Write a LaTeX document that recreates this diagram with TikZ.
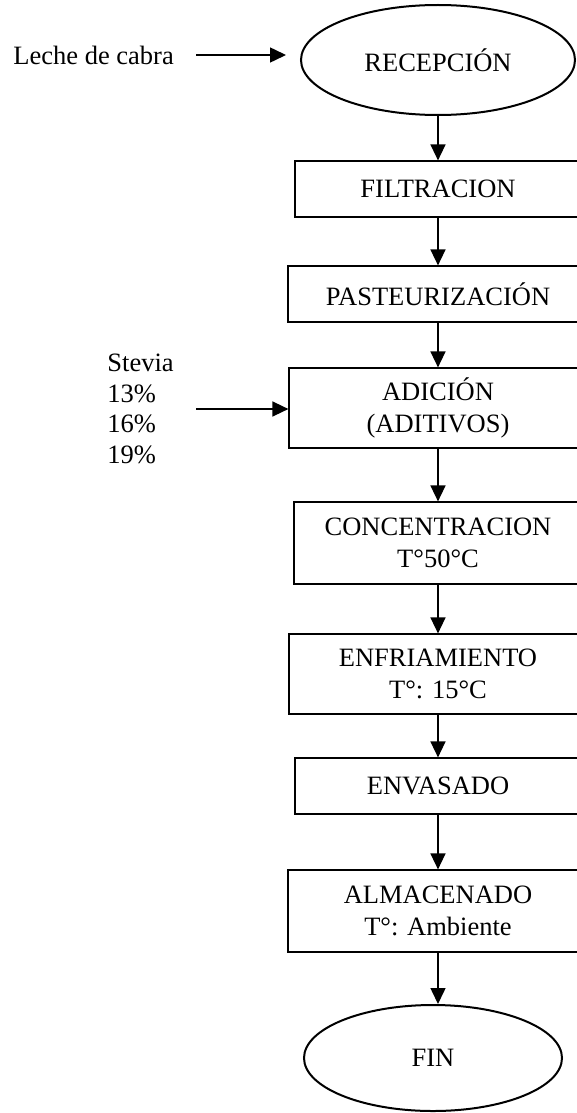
\documentclass[tikz,border=0pt]{standalone}
\usepackage{fontspec}
\setmainfont{Liberation Serif}
\usetikzlibrary{arrows.meta,shapes.geometric}

\begin{document}
\begin{tikzpicture}[x=0.5pt,y=-0.5pt,
        every node/.style={font=\fontsize{13.25}{16}\selectfont},
        paso/.style={draw,line width=0.6pt,inner sep=0pt,align=center},
        extremo/.style={draw,ellipse,line width=1pt,inner sep=0pt},
        flecha/.style={-{Triangle[length=8pt,width=7.5pt]},line width=0.75pt},
        entrada/.style={anchor=west,inner sep=0pt,align=left}]
         \useasboundingbox (0,0) rectangle (577,1113);
         \node [entrada] (LC) at (13,55) {Leche de cabra};
         \node [entrada,font=\fontsize{13.25}{15.35}\selectfont] (ST) at (107,409) {Stevia\\13\%\\16\%\\19\%};
         \node [extremo,minimum width=137pt,minimum height=55pt] (REC) at (438,60) {RECEPCIÓN};
         \node [paso,minimum width=143pt,minimum height=28pt] (FIL) at (438,189) {FILTRACION};
         \node [paso,minimum width=150pt,minimum height=28pt] (PAS) at (438,294) {PASTEURIZACIÓN};
         \node [paso,minimum width=149pt,minimum height=40pt] (ADI) at (438,408) {ADICIÓN\\(ADITIVOS)};
         \node [paso,minimum width=144pt,minimum height=41pt] (CON) at (438,543) {CONCENTRACION\\T°50°C};
         \node [paso,minimum width=149pt,minimum height=40pt] (ENF) at (438,674) {ENFRIAMIENTO\\T°: 15°C};
         \node [paso,minimum width=143pt,minimum height=28pt] (ENV) at (438,786) {ENVASADO};
         \node [paso,minimum width=150pt,minimum height=41pt] (ALM) at (438,911) {ALMACENADO\\T°: Ambiente};
         \node [extremo,minimum width=129pt,minimum height=53pt] (FIN) at (433,1058) {FIN};
         \draw [flecha,shorten <=11pt,shorten >=7pt] (LC.east) -- (LC.east -| REC.west);
         \draw [flecha,shorten <=11pt] (ST.east) -- (ST.east -| ADI.west);
         \draw [flecha] (REC.south) -- (FIL.north);
         \draw [flecha] (FIL.south) -- (PAS.north);
         \draw [flecha] (PAS.south) -- (ADI.north);
         \draw [flecha] (ADI.south) -- (CON.north);
         \draw [flecha] (CON.south) -- (ENF.north);
         \draw [flecha] (ENF.south) -- (ENV.north);
         \draw [flecha] (ENV.south) -- (ALM.north);
         \draw [flecha] (ALM.south) -- (ALM.south |- FIN.north);
\end{tikzpicture}
\end{document}
